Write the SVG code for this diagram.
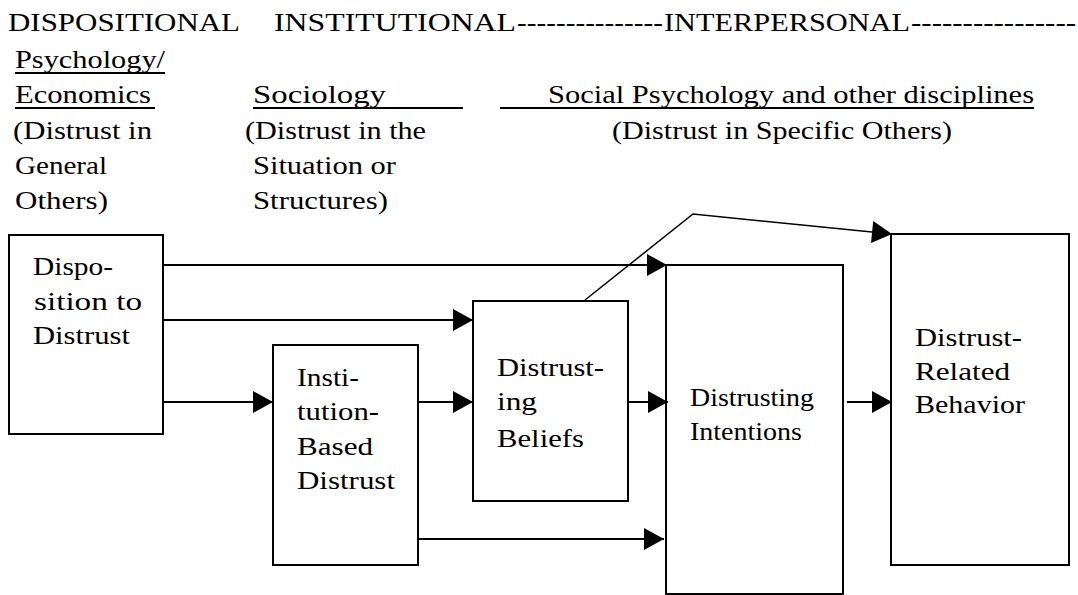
<svg xmlns="http://www.w3.org/2000/svg" width="1078" height="595" viewBox="0 0 1078 595">
<defs>
<style>
text{font-family:"Liberation Serif","Times New Roman",serif;font-size:25px;fill:#000}
.box{fill:#fff;stroke:#000;stroke-width:2}
.ln{fill:none;stroke:#000;stroke-width:2}
.thin{fill:none;stroke:#000;stroke-width:1.5}
.ul{stroke:#000;stroke-width:1.8}
</style>
<marker id="ah" markerUnits="userSpaceOnUse" markerWidth="22" markerHeight="24" viewBox="0 0 22 24" refX="21" refY="12" orient="auto">
<path d="M1,1 L21,12 L1,23 Z" fill="#000"/>
</marker>
</defs>
<rect width="1078" height="595" fill="#fff"/>
<g id="headers">
<text x="8" y="31" textLength="232" lengthAdjust="spacingAndGlyphs">DISPOSITIONAL</text>
<text x="274" y="31" textLength="242" lengthAdjust="spacingAndGlyphs">INSTITUTIONAL</text>
<text x="517" y="31" textLength="146" lengthAdjust="spacingAndGlyphs">---------------</text>
<text x="664" y="31" textLength="246" lengthAdjust="spacingAndGlyphs">INTERPERSONAL</text>
<text x="911" y="31" textLength="165" lengthAdjust="spacingAndGlyphs">----------------</text>
<text x="15" y="68" textLength="150" lengthAdjust="spacingAndGlyphs">Psychology/</text>
<line class="ul" x1="15" y1="73" x2="165" y2="73"/>
<text x="15" y="103" textLength="136" lengthAdjust="spacingAndGlyphs">Economics</text>
<line class="ul" x1="15" y1="108" x2="155" y2="108"/>
<text x="253" y="103" textLength="133" lengthAdjust="spacingAndGlyphs">Sociology</text>
<line class="ul" x1="253" y1="108" x2="463" y2="108"/>
<text x="548" y="103" textLength="486" lengthAdjust="spacingAndGlyphs">Social Psychology and other disciplines</text>
<line class="ul" x1="500" y1="108" x2="1034" y2="108"/>
<text x="13" y="139" textLength="139" lengthAdjust="spacingAndGlyphs">(Distrust in</text>
<text x="245" y="139" textLength="181" lengthAdjust="spacingAndGlyphs">(Distrust in the</text>
<text x="612" y="139" textLength="340" lengthAdjust="spacingAndGlyphs">(Distrust in Specific Others)</text>
<text x="15" y="174" textLength="92" lengthAdjust="spacingAndGlyphs">General</text>
<text x="253" y="174" textLength="143" lengthAdjust="spacingAndGlyphs">Situation or</text>
<text x="15" y="209" textLength="93" lengthAdjust="spacingAndGlyphs">Others)</text>
<text x="253" y="209" textLength="135" lengthAdjust="spacingAndGlyphs">Structures)</text>
</g>
<g id="node-disposition">
<rect class="box" x="9" y="235" width="154" height="199"/>
<text x="33" y="275" textLength="80" lengthAdjust="spacingAndGlyphs">Dispo-</text>
<text x="34" y="310" textLength="108" lengthAdjust="spacingAndGlyphs">sition  to</text>
<text x="33" y="344" textLength="97" lengthAdjust="spacingAndGlyphs">Distrust</text>
</g>
<g id="node-institution">
<rect class="box" x="273" y="345" width="145" height="220"/>
<text x="297" y="386" textLength="62" lengthAdjust="spacingAndGlyphs">Insti-</text>
<text x="297" y="420" textLength="82" lengthAdjust="spacingAndGlyphs">tution-</text>
<text x="297" y="455" textLength="76" lengthAdjust="spacingAndGlyphs">Based</text>
<text x="297" y="489" textLength="98" lengthAdjust="spacingAndGlyphs">Distrust</text>
</g>
<g id="node-beliefs">
<rect class="box" x="473" y="301" width="155" height="200"/>
<text x="497" y="376" textLength="107" lengthAdjust="spacingAndGlyphs">Distrust-</text>
<text x="497" y="410" textLength="40" lengthAdjust="spacingAndGlyphs">ing</text>
<text x="497" y="447" textLength="87" lengthAdjust="spacingAndGlyphs">Beliefs</text>
</g>
<g id="node-intentions">
<rect class="box" x="666" y="265" width="177" height="329"/>
<text x="690" y="406" textLength="124" lengthAdjust="spacingAndGlyphs">Distrusting</text>
<text x="690" y="440" textLength="112" lengthAdjust="spacingAndGlyphs">Intentions</text>
</g>
<g id="node-behavior">
<rect class="box" x="891" y="234" width="178" height="331"/>
<text x="915" y="346" textLength="107" lengthAdjust="spacingAndGlyphs">Distrust-</text>
<text x="915" y="380" textLength="95" lengthAdjust="spacingAndGlyphs">Related</text>
<text x="915" y="413" textLength="110" lengthAdjust="spacingAndGlyphs">Behavior</text>
</g>
<g id="connectors">
<line class="ln" x1="163" y1="265" x2="667" y2="265" marker-end="url(#ah)"/>
<line class="ln" x1="163" y1="320" x2="473" y2="320" marker-end="url(#ah)"/>
<line class="ln" x1="163" y1="402" x2="273" y2="402" marker-end="url(#ah)"/>
<line class="ln" x1="418" y1="402" x2="473" y2="402" marker-end="url(#ah)"/>
<line class="ln" x1="628" y1="402" x2="668" y2="402" marker-end="url(#ah)"/>
<line class="ln" x1="418" y1="539" x2="664" y2="539" marker-end="url(#ah)"/>
<line class="ln" x1="847" y1="402" x2="892" y2="402" marker-end="url(#ah)"/>
<polyline class="thin" points="585,300 693,214 892,234" marker-end="url(#ah)"/>
</g>
</svg>
